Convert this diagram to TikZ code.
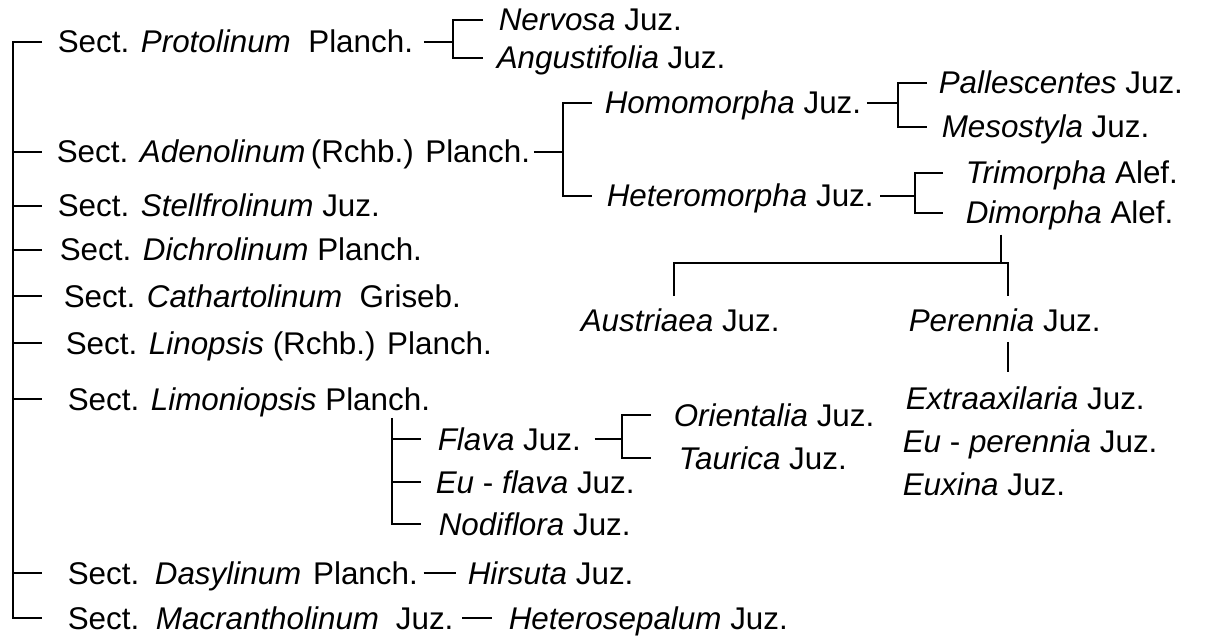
\documentclass[tikz,border=0pt]{standalone}
\usepackage{fontspec}
\setmainfont{Liberation Sans}
\begin{document}
\begin{tikzpicture}[x=1bp,y=-1bp,line width=1.5bp,
  txt/.style={anchor=west,inner sep=0pt,text height=22bp,text depth=0pt,font=\fontsize{31.5}{36}\selectfont}]
\useasboundingbox[fill=white] (0,0) rectangle (1207,641);
% sections
\node[txt] (s1) at (57,42) {Sect. \textit{Protolinum}\ \ Planch.};
\node[txt] (s2) at (56,152) {Sect. \textit{Adenolinum}\,(Rchb.) Planch.};
\node[txt] (s3) at (57,206) {Sect. \textit{Stellfrolinum} Juz.};
\node[txt] (s4) at (59,250) {Sect. \textit{Dichrolinum} Planch.};
\node[txt] (s5) at (63,296) {Sect. \textit{Cathartolinum}\ \ Griseb.};
\node[txt] (s6) at (65,343) {Sect. \textit{Linopsis} (Rchb.) Planch.};
\node[txt] (s7) at (67,399) {Sect. \textit{Limoniopsis} Planch.};
\node[txt] (s8) at (67,573) {Sect.\hspace{4bp} \textit{Dasylinum}\hspace{3bp} Planch.};
\node[txt] (s9) at (67,618) {Sect.\hspace{5bp} \textit{Macrantholinum}\hspace{8bp} Juz.};
% subdivisions
\node[txt] (nerv) at (498,20) {\textit{Nervosa}\ Juz.};
\node[txt] (ang) at (496,58) {\textit{Angustifolia}\ Juz.};
\node[txt] (homo) at (604,103) {\textit{Homomorpha}\ Juz.};
\node[txt] (hete) at (606,196) {\textit{Heteromorpha}\ Juz.};
\node[txt] (pall) at (938,83) {\textit{Pallescentes} Juz.};
\node[txt] (meso) at (941,127) {\textit{Mesostyla} Juz.};
\node[txt] (trim) at (965,173) {\textit{Trimorpha}\ Alef.};
\node[txt] (dimo) at (965,213) {\textit{Dimorpha}\ Alef.};
\node[txt] (aust) at (580,320) {\textit{Austriaea} Juz.};
\node[txt] (pere) at (908,320) {\textit{Perennia} Juz.};
\node[txt] (extr) at (905,398) {\textit{Extraaxilaria} Juz.};
\node[txt] (eupe) at (902,441) {\textit{Eu} - \textit{perennia} Juz.};
\node[txt] (euxi) at (902,484) {\textit{Euxina} Juz.};
\node[txt] (flav) at (437,439) {\textit{Flava} Juz.};
\node[txt] (eufl) at (435,482) {\textit{Eu} - \textit{flava} Juz.};
\node[txt] (nodi) at (438,524) {\textit{Nodiflora} Juz.};
\node[txt] (orie) at (673,415) {\textit{Orientalia} Juz.};
\node[txt] (taur) at (678,458) {\textit{Taurica} Juz.};
\node[txt] (hirs) at (467,573) {\textit{Hirsuta}\ Juz.};
\node[txt] (hetr) at (508,618) {\textit{Heterosepalum} Juz.};
% helper x positions
\coordinate (tx) at (13,0);
\coordinate (te) at (42,0);
% main trunk
\draw (te |- s1.west) -| (tx |- s9.west) -- (te |- s9.west);
\foreach \n in {s2,s3,s4,s5,s6,s7,s8}{\draw (tx |- \n.west) -- (te |- \n.west);}
% Protolinum
\coordinate (b1) at (453,0);
\draw ([xshift=10bp]s1.east) -- (b1 |- s1.west);
\draw ([xshift=-15bp]nerv.west) -| (b1 |- ang.west) -- ([xshift=-13bp]ang.west);
% Adenolinum
\coordinate (b2) at (563,0);
\draw ([xshift=3bp]s2.east) -- (b2 |- s2.west);
\draw ([xshift=-12bp]homo.west) -| (b2 |- hete.west) -- ([xshift=-14bp]hete.west);
% Homomorpha
\coordinate (b3) at (898,0);
\draw ([xshift=5bp]homo.east) -- (b3 |- homo.west);
\draw ([xshift=-11bp]pall.west) -| (b3 |- meso.west) -- ([xshift=-14bp]meso.west);
% Heteromorpha
\coordinate (b4) at (915,0);
\draw ([xshift=6bp]hete.east) -- (b4 |- hete.west);
\draw ([xshift=-22bp]trim.west) -| (b4 |- dimo.west) -- ([xshift=-22bp]dimo.west);
% Dimorpha -> Austriaea / Perennia
\coordinate (h) at (0,263);
\coordinate (dx) at (1001,0);
\coordinate (px) at (1008,0);
\coordinate (ax) at (674,0);
\draw ([yshift=-10bp]dx |- dimo.south) -- (dx |- h);
\draw ([yshift=12bp]ax |- aust.north) -- (ax |- h) -- (px |- h) -- ([yshift=12bp]px |- pere.north);
% Perennia -> Extraaxilaria
\draw ([yshift=-10bp]px |- pere.south) -- ([yshift=14bp]px |- extr.north);
% Limoniopsis
\coordinate (b5) at (392,0);
\coordinate (t5) at (421,0);
\draw ([yshift=-7bp]b5 |- s7.south) -- (b5 |- nodi.west) -- (t5 |- nodi.west);
\draw (b5 |- flav.west) -- (t5 |- flav.west);
\draw (b5 |- eufl.west) -- (t5 |- eufl.west);
% Flava
\coordinate (b6) at (622,0);
\draw ([xshift=13bp]flav.east) -- (b6 |- flav.west);
\draw ([xshift=-22bp]orie.west) -| (b6 |- taur.west) -- ([xshift=-27bp]taur.west);
% Dasylinum, Macrantholinum
\draw ([xshift=5bp]s8.east) -- ([xshift=-11bp]hirs.west);
\draw ([xshift=8bp]s9.east) -- ([xshift=-16bp]hetr.west);
\end{tikzpicture}
\end{document}
